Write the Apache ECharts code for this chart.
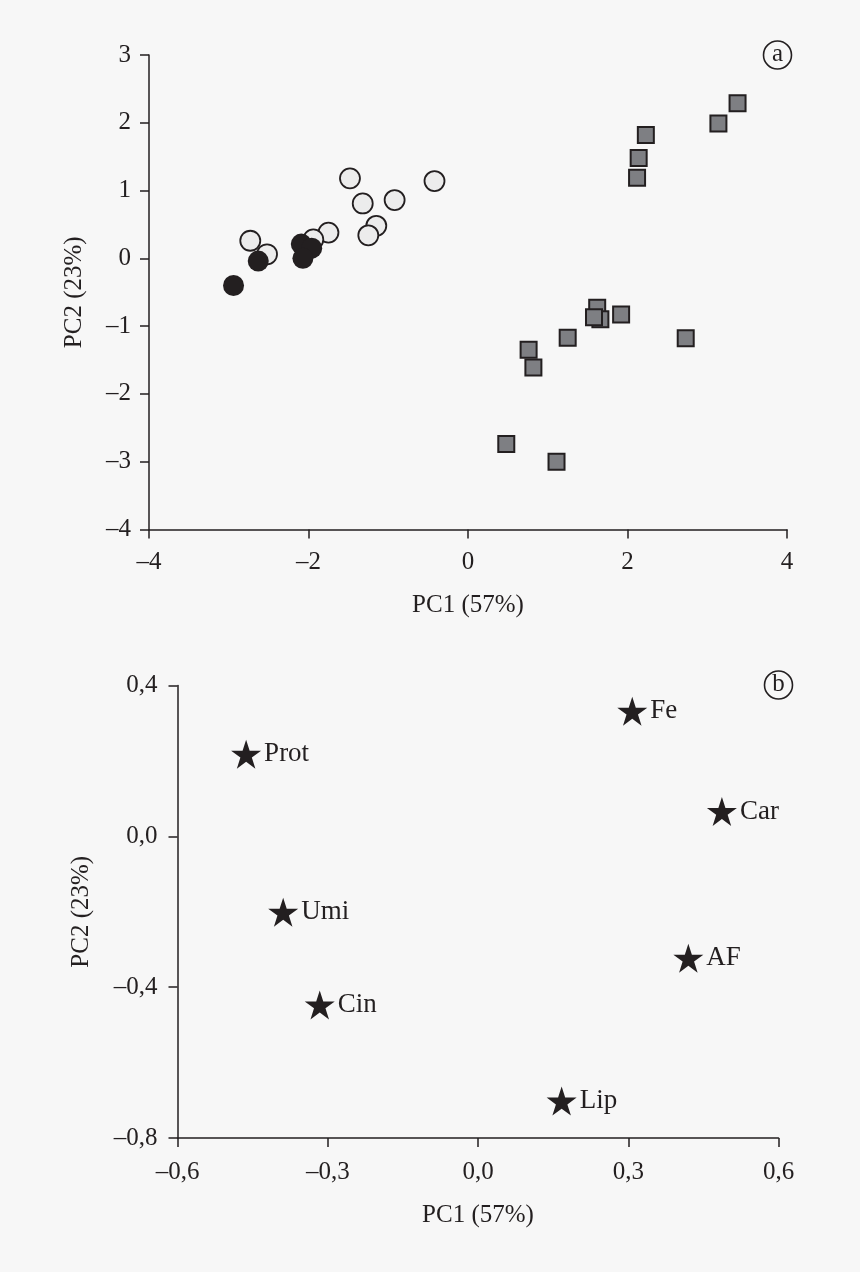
<!DOCTYPE html>
<html>
<head>
<meta charset="utf-8">
<title>PCA</title>
<script src="https://cdn.jsdelivr.net/npm/echarts@6/dist/echarts.min.js"></script>
<style>
  html, body { margin: 0; padding: 0; background: #f7f7f7; }
  #main { width: 860px; height: 1272px; }
</style>
</head>
<body>
<div id="main"></div>
<script>
/**
 * 得分图 (a)：三组样品的 PC1 / PC2 得分
 */
const openCircleData = [
  [-1.48, 1.18], [-0.42, 1.14], [-1.32, 0.81], [-0.92, 0.86], [-1.15, 0.48],
  [-1.25, 0.34], [-1.75, 0.38], [-1.94, 0.28], [-2.73, 0.26], [-2.52, 0.06]
];
const filledCircleData = [
  [-2.94, -0.40], [-2.63, -0.04], [-2.09, 0.21], [-1.96, 0.15], [-2.07, 0.00]
];
const squareData = [
  [3.38, 2.29], [3.14, 1.99], [2.23, 1.82], [2.14, 1.48], [2.12, 1.19],
  [1.62, -0.73], [1.66, -0.90], [1.58, -0.87], [1.92, -0.83], [2.73, -1.18],
  [1.25, -1.17], [0.76, -1.35], [0.82, -1.61], [0.48, -2.74], [1.11, -3.00]
];

/**
 * 载荷图 (b)：各变量的载荷
 */
const loadingNames = ['Prot', 'Umi', 'Cin', 'Fe', 'Car', 'AF', 'Lip'];
const loadingX = [-0.463, -0.389, -0.316, 0.308, 0.487, 0.420, 0.167];
const loadingY = [0.218, -0.201, -0.447, 0.332, 0.066, -0.323, -0.702];

const ink = '#231f20';
const font = 'Liberation Serif';
const starPath = 'path://M0,-1L0.2245,-0.309L0.951,-0.309L0.363,0.118L0.588,0.809L0,0.382L-0.588,0.809L-0.363,0.118L-0.951,-0.309L-0.2245,-0.309Z';

// 刻度标签：小数用逗号，负号用短破折号
function fmtInt(v) {
  return String(Math.round(v)).replace('-', '\u2013');
}
function fmtDec(v) {
  let s = (Math.round(v * 10) / 10).toFixed(1);
  if (s === '-0.0') s = '0.0';
  return s.replace('.', ',').replace('-', '\u2013');
}

function axisCommon(extra) {
  return Object.assign({
    type: 'value',
    nameLocation: 'middle',
    nameTextStyle: { fontFamily: font, fontSize: 25, color: ink },
    axisLine: { show: true, onZero: false, lineStyle: { color: ink, width: 1.5 } },
    axisTick: { show: true, length: 9, lineStyle: { color: ink, width: 1.5 } },
    splitLine: { show: false }
  }, extra);
}

function circledLetter(letter, cx, cy) {
  return {
    type: 'group',
    x: cx,
    y: cy,
    children: [{
      type: 'circle',
      shape: { cx: 0, cy: 0, r: 14 },
      style: { fill: 'none', stroke: ink, lineWidth: 1.6 }
    }, {
      type: 'text',
      x: 0,
      y: -1,
      style: {
        text: letter,
        font: '25px "' + font + '"',
        fill: ink,
        align: 'center',
        verticalAlign: 'middle'
      }
    }]
  };
}

const chart = echarts.init(document.getElementById('main'));

var option = {
  backgroundColor: '#f7f7f7',
  animation: false,
  grid: [
    { left: 149, right: 73, top: 55, bottom: 742.5 },
    { left: 177.5, right: 81.5, top: 685.5, bottom: 134 }
  ],
  xAxis: [
    axisCommon({
      gridIndex: 0, min: -4, max: 4, interval: 2, name: 'PC1 (57%)', nameGap: 63,
      axisLabel: { fontFamily: font, fontSize: 25, color: ink, margin: 20, formatter: fmtInt }
    }),
    axisCommon({
      gridIndex: 1, min: -0.6, max: 0.6, interval: 0.3, name: 'PC1 (57%)', nameGap: 65,
      axisLabel: { fontFamily: font, fontSize: 25, color: ink, margin: 22, formatter: fmtDec }
    })
  ],
  yAxis: [
    axisCommon({
      gridIndex: 0, min: -4, max: 3, interval: 1, name: 'PC2 (23%)', nameGap: 62,
      axisLabel: { fontFamily: font, fontSize: 25, color: ink, margin: 18, formatter: fmtInt }
    }),
    axisCommon({
      gridIndex: 1, min: -0.8, max: 0.4, interval: 0.4, name: 'PC2 (23%)', nameGap: 84,
      axisLabel: { fontFamily: font, fontSize: 25, color: ink, margin: 20, formatter: fmtDec }
    })
  ],
  graphic: [
    circledLetter('a', 777.5, 55),
    circledLetter('b', 778.5, 685)
  ],
  series: [{
    name: 'open',
    type: 'scatter',
    xAxisIndex: 0,
    yAxisIndex: 0,
    symbol: 'circle',
    symbolSize: 20,
    itemStyle: { color: '#ececec', borderColor: ink, borderWidth: 1.8, opacity: 1 },
    data: openCircleData
  }, {
    name: 'filled',
    type: 'scatter',
    xAxisIndex: 0,
    yAxisIndex: 0,
    symbol: 'circle',
    symbolSize: 21,
    itemStyle: { color: ink, borderWidth: 0, opacity: 1 },
    data: filledCircleData
  }, {
    name: 'square',
    type: 'scatter',
    xAxisIndex: 0,
    yAxisIndex: 0,
    symbol: 'rect',
    symbolSize: 16,
    itemStyle: { color: '#7e7f83', borderColor: ink, borderWidth: 2, opacity: 1 },
    data: squareData
  }, {
    name: 'loadings',
    type: 'scatter',
    xAxisIndex: 1,
    yAxisIndex: 1,
    symbol: starPath,
    symbolSize: [30, 29],
    itemStyle: { color: ink, opacity: 1 },
    label: {
      show: true,
      position: 'right',
      distance: 3,
      formatter: '{b}',
      fontFamily: font,
      fontSize: 27,
      color: ink
    },
    data: loadingNames.map(function (n, i) {
      return { name: n, value: [loadingX[i], loadingY[i]] };
    })
  }]
};

chart.setOption(option);
</script>
</body>
</html>
